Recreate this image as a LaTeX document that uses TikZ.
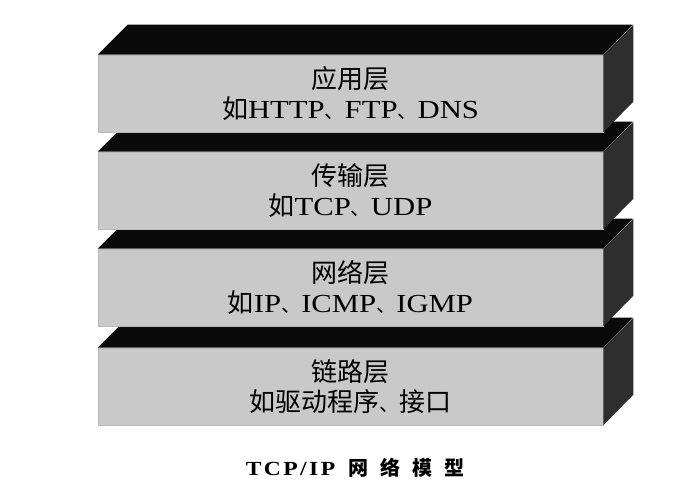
\documentclass[tikz,border=0pt]{standalone}
\usepackage{fontspec}
\setmainfont{Liberation Serif}[FakeStretch=1.18]
\newfontfamily\cjk{Noto Sans CJK SC}
\newfontfamily\cjkb{Noto Sans CJK SC Bold}
\newcommand\zh[1]{{\cjk #1}}
\newcommand\dun{{\cjk\fontsize{20}{29.5}\selectfont 、}}
\definecolor{frontgray}{HTML}{C9C9C9}
\definecolor{sidegray}{HTML}{2E2E2E}
\definecolor{topblack}{HTML}{0A0A0A}
\tikzset{
  front/.style={rectangle, draw=gray!55, line width=0.6pt, fill=frontgray,
    minimum width=505pt, minimum height=77pt, inner sep=0pt, align=center,
    font=\fontsize{26}{29.5}\selectfont},
  topface/.style={fill=topblack, draw=none},
  sideface/.style={fill=sidegray, draw=none},
  caption/.style={font=\fontsize{20}{24}\selectfont\bfseries, inner sep=0pt}
}
\begin{document}
\begin{tikzpicture}[x=1pt,y=-1pt]
\useasboundingbox (0,0) rectangle (698,496);
\fill[white] (0,0) rectangle (698,496);
% boxes drawn from bottom to top
\foreach \name/\top/\txt in {
  b4/348/{\zh{链路层}\\\zh{如驱动程序}\dun\zh{接口}},
  b3/249/{\zh{网络层}\\\zh{如}IP\dun ICMP\dun IGMP},
  b2/152/{\zh{传输层}\\\zh{如}TCP\dun UDP},
  b1/55/{\zh{应用层}\\\zh{如}HTTP\dun FTP\dun DNS}}{
  \node[front] (\name) at (350.5,\top+38.5) {\txt};
  \path[topface] (\name.north west) -- ++(30,-30) -- ++(505,0) -- (\name.north east) -- cycle;
  \path[sideface] (\name.north east) -- ++(30,-30) -- ++(0,77) -- (\name.south east) -- cycle;
}
\node[caption] (cap) at (355,468) {{\addfontfeatures{LetterSpace=12}TCP/IP}\hspace{13pt}{\cjkb 网\hspace{12pt}络\hspace{12pt}模\hspace{12pt}型}};
\end{tikzpicture}
\end{document}
